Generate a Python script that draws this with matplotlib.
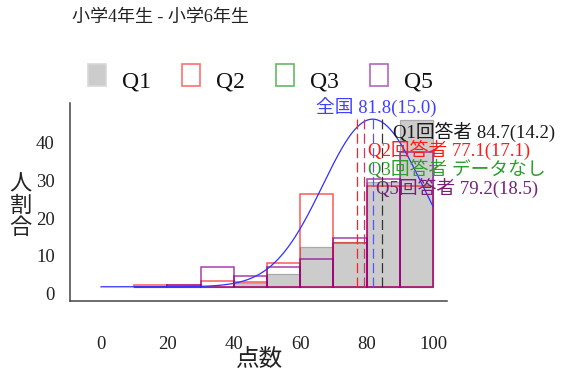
import numpy as np
import matplotlib
matplotlib.use("Agg")
import matplotlib.pyplot as plt
from matplotlib.patches import Rectangle

plt.rcParams['font.family'] = ['Liberation Serif', 'Noto Sans CJK JP']

# --- data -------------------------------------------------------------
bin_left = [10, 20, 30, 40, 50, 60, 70, 80, 90]
bin_width = 10
q1_pct = [0.0, 0.0, 0.0, 1.1, 3.4, 10.5, 11.8, 28.0, 44.5]
q2_pct = [0.5, 0.6, 1.5, 1.4, 6.2, 24.7, 11.6, 26.7, 26.7]
q5_pct = [0.0, 0.4, 5.2, 3.0, 5.3, 7.5, 13.0, 28.8, 35.9]

nat_mean, nat_sd = 81.8, 15.0
curve_peak = 44.6
q1_mean, q1_sd = 84.7, 14.2
q2_mean, q2_sd = 77.1, 17.1
q5_mean, q5_sd = 79.2, 18.5

x_ticks = [0, 20, 40, 60, 80, 100]
y_ticks = [0, 10, 20, 30, 40]
legend_names = ["Q1", "Q2", "Q3", "Q5"]

# --- figure -----------------------------------------------------------
fig = plt.figure(figsize=(5.62, 3.71), dpi=100)
ax = fig.add_axes([0.1246, 0.1887, 0.6708, 0.5337])
ax.set_xlim(-9.34, 104.2)
ax.set_ylim(-3.78, 48.9)

ax.bar(bin_left, q1_pct, width=bin_width, align='edge',
       color='#cccccc', edgecolor='#aaaaaa', linewidth=0.9, zorder=1)
ax.bar(bin_left, q2_pct, width=bin_width, align='edge',
       facecolor='none', edgecolor=(1, 0, 0, 0.65), linewidth=1.1, zorder=2)
ax.bar(bin_left, q5_pct, width=bin_width, align='edge',
       facecolor='none', edgecolor=(0.55, 0.0, 0.55, 0.75), linewidth=1.1, zorder=3)

# national normal curve
xs = np.linspace(0, 100, 400)
ys = curve_peak * np.exp(-(xs - nat_mean) ** 2 / (2 * nat_sd ** 2))
ax.plot(xs, ys, color='#3030ff', linewidth=0.9, zorder=4)

# group means
dash = (0, (8, 3.5))
ax.vlines(q2_mean, 0, curve_peak, colors='#ff2020', linestyles=dash, linewidth=0.9, zorder=5)
ax.vlines(q5_mean, 0, curve_peak, colors='#cc3366', linestyles=dash, linewidth=0.9, zorder=5)
ax.vlines(nat_mean, 0, curve_peak, colors='#5555ff', linestyles=dash, linewidth=0.9, zorder=5)
ax.vlines(q1_mean, 0, curve_peak, colors='#333333', linestyles=dash, linewidth=0.9, zorder=5)

lab_fs = 13.5
ax.text(82.8, 47.6, f"全国 {nat_mean:.1f}({nat_sd:.1f})", color='#4040ff',
        fontsize=lab_fs, ha='center', va='center', clip_on=False, zorder=6)
ax.text(88.0, 41.2, f"Q1回答者 {q1_mean:.1f}({q1_sd:.1f})", color='#1a1a1a',
        fontsize=lab_fs, ha='left', va='center', clip_on=False, zorder=6)
ax.text(80.4, 36.4, f"Q2回答者 {q2_mean:.1f}({q2_sd:.1f})", color='#ff1a1a',
        fontsize=lab_fs, ha='left', va='center', clip_on=False, zorder=6)
ax.text(80.4, 31.3, "Q3回答者 データなし", color='#2e9e2e',
        fontsize=lab_fs, ha='left', va='center', clip_on=False, zorder=6)
ax.text(82.8, 26.3, f"Q5回答者 {q5_mean:.1f}({q5_sd:.1f})", color='#7a1f7a',
        fontsize=lab_fs, ha='left', va='center', clip_on=False, zorder=6)

# axes styling
for side in ('top', 'right'):
    ax.spines[side].set_visible(False)
for side in ('left', 'bottom'):
    ax.spines[side].set_color('#444444')
    ax.spines[side].set_linewidth(1.1)
ax.set_xticks(x_ticks)
ax.set_yticks(y_ticks)
ax.tick_params(axis='x', length=0, pad=25, labelsize=13.5, colors='#222222')
ax.tick_params(axis='y', length=0, pad=11, labelsize=13.5, colors='#222222')
for lbl in ax.get_yticklabels():
    lbl.set_va('top')

fig.text(0.4626, 0.032, "点数", fontsize=17, ha='center', va='center', color='#222222')
fig.text(0.037, 0.44, "人\n割\n合", fontsize=16, ha='center', va='center',
         linespacing=1.08, color='#222222')

fig.text(72 / 562, 1 - 17 / 371, "小学4年生 - 小学6年生", fontsize=13,
         ha='left', va='center', color='#222222')

# legend
leg_face = ['#cccccc', 'none', 'none', 'none']
leg_edge = ['#d8d8d8', '#ff7070', '#66b866', '#b466c0']
leg_x = [88, 182, 276, 370]
for name, fc, ec, x0 in zip(legend_names, leg_face, leg_edge, leg_x):
    fig.patches.append(Rectangle((x0 / 562, 1 - 86 / 371), 18 / 562, 22 / 371,
                                 transform=fig.transFigure, facecolor=fc,
                                 edgecolor=ec, linewidth=1.2))
    fig.text((x0 + 34) / 562, 1 - 82 / 371, name, fontsize=17,
             ha='left', va='center', color='#111111')

fig.savefig("out.png", dpi=100)
